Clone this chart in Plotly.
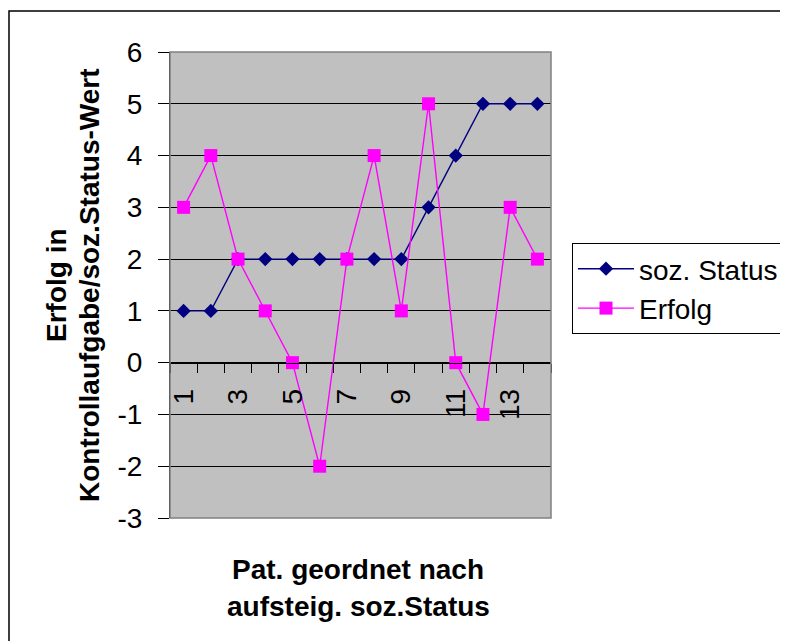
import plotly.graph_objects as go

patients = list(range(1, 15))
soz_status = [1, 1, 2, 2, 2, 2, 2, 2, 2, 3, 4, 5, 5, 5]
erfolg = [3, 4, 2, 1, 0, -2, 2, 4, 1, 5, 0, -1, 3, 2]
x_tick_vals = [1, 3, 5, 7, 9, 11, 13]
x_tick_text = ["1", "3", "5", "7", "9", "11", "13"]
y_tick_vals = [-3, -2, -1, 0, 1, 2, 3, 4, 5, 6]
y_tick_text = ["-3", "-2", "-1", "0", "1", "2", "3", "4", "5", "6"]

FONT = "Liberation Sans, Arial, sans-serif"
FS = 28

fig = go.Figure()
fig.add_trace(go.Scatter(
    x=patients, y=soz_status, name="soz. Status", mode="lines+markers",
    line=dict(color="#000080", width=1.4),
    marker=dict(symbol="diamond", size=11, color="#000080"),
))
fig.add_trace(go.Scatter(
    x=patients, y=erfolg, name="Erfolg", mode="lines+markers",
    line=dict(color="#FF00FF", width=1.4),
    marker=dict(symbol="square", size=13, color="#FF00FF"),
))

# page body has 8px margin -> figure coords = screen coords - 8
OFF = 8
W, H = 788, 641
L, T = 170 - OFF, 52 - OFF
PR, PB = 551 - OFF, 518 - OFF
R, B = W - PR, H - PB
pw, ph = PR - L, PB - T


def px(sx):
    return (sx - OFF - L) / pw


def py(sy):
    return (PB - (sy - OFF)) / ph


fig.update_layout(
    width=W, height=H,
    margin=dict(l=L, r=R, t=T, b=B, autoexpand=False),
    paper_bgcolor="white",
    plot_bgcolor="#C0C0C0",
    font=dict(family=FONT, size=FS, color="black"),
    showlegend=True,
    legend=dict(
        x=px(572), y=py(243), xanchor="left", yanchor="top",
        bordercolor="black", borderwidth=1, bgcolor="white",
        font=dict(family=FONT, size=FS, color="black"),
        itemwidth=56, tracegroupgap=0,
    ),
    xaxis=dict(
        range=[0.5, 14.5], anchor="free", position=3 / 9,
        tickmode="array", tickvals=x_tick_vals, ticktext=x_tick_text,
        tickangle=-90, ticks="", showgrid=False, zeroline=False,
        showline=True, linecolor="black", linewidth=1,
        ticklabelstandoff=14,
        tickfont=dict(family=FONT, size=FS, color="black"),
        minor=dict(tick0=0.5, dtick=1, ticks="outside", ticklen=9,
                   tickcolor="black", tickwidth=1, showgrid=False),
    ),
    yaxis=dict(
        range=[-3, 6], tickmode="array", tickvals=y_tick_vals,
        ticktext=y_tick_text,
        ticks="outside", ticklen=11, tickcolor="black",
        ticklabelstandoff=10,
        showgrid=True, gridcolor="black", gridwidth=1, zeroline=False,
        showline=True, linecolor="black", linewidth=1,
        tickfont=dict(family=FONT, size=FS, color="black"),
    ),
)

# plot-area border (gray)
fig.add_shape(type="rect", xref="paper", yref="paper", x0=0, x1=1, y0=0, y1=1,
              line=dict(color="#808080", width=1.5), layer="above")

# outer chart border
fig.add_shape(type="rect", xref="paper", yref="paper",
              x0=px(9), x1=px(1000), y0=py(900), y1=py(11),
              line=dict(color="black", width=1.5))

# y-axis title (two lines)
fig.add_annotation(
    text="<b>Erfolg in</b>", xref="paper", yref="paper",
    x=px(56), y=py(285), textangle=-90, showarrow=False,
    xanchor="center", yanchor="middle",
    font=dict(family=FONT, size=FS, color="black"),
)
fig.add_annotation(
    text="<b>Kontrollaufgabe/soz.Status-Wert</b>", xref="paper", yref="paper",
    x=px(89), y=py(285), textangle=-90, showarrow=False,
    xanchor="center", yanchor="middle",
    font=dict(family=FONT, size=FS, color="black"),
)
# x-axis title (two lines)
fig.add_annotation(
    text="<b>Pat. geordnet nach</b>", xref="paper", yref="paper",
    x=px(358), y=py(569), showarrow=False, xanchor="center", yanchor="middle",
    font=dict(family=FONT, size=FS, color="black"),
)
fig.add_annotation(
    text="<b>aufsteig. soz.Status</b>", xref="paper", yref="paper",
    x=px(358), y=py(606), showarrow=False, xanchor="center", yanchor="middle",
    font=dict(family=FONT, size=FS, color="black"),
)

fig.write_html("out.html")
